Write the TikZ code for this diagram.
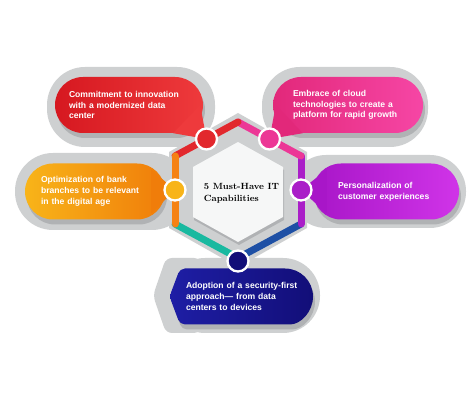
\documentclass[tikz,border=0pt]{standalone}
\usepackage{fontspec}
\newfontfamily\cardfont{Liberation Sans}
\usetikzlibrary{positioning,calc,shadows}

\definecolor{plategray}{RGB}{206,208,209}
\definecolor{plateshade}{RGB}{176,178,180}
\definecolor{hexwhite}{RGB}{246,247,247}
\definecolor{redL}{RGB}{214,24,32}
\definecolor{redR}{RGB}{238,58,60}
\definecolor{pinkL}{RGB}{226,40,122}
\definecolor{pinkR}{RGB}{246,70,165}
\definecolor{orangeL}{RGB}{248,180,25}
\definecolor{orangeR}{RGB}{240,125,10}
\definecolor{purpleL}{RGB}{168,22,200}
\definecolor{purpleR}{RGB}{208,52,232}
\definecolor{navyL}{RGB}{30,30,165}
\definecolor{navyR}{RGB}{18,14,120}
\definecolor{ringred}{RGB}{226,40,45}
\definecolor{ringpink}{RGB}{236,55,150}
\definecolor{ringorange}{RGB}{245,130,20}
\definecolor{ringpurple}{RGB}{170,30,200}
\definecolor{ringteal}{RGB}{25,185,160}
\definecolor{ringblue}{RGB}{30,80,165}

\tikzset{
  plate/.style={fill=plategray},
  cardshadow/.style={drop shadow={fill=plateshade, opacity=1, shadow xshift=2pt, shadow yshift=-5pt}},
  cardtext/.style={align=left, text=white, font=\cardfont\bfseries\fontsize{8.6}{10.8}\selectfont},
  card/.style={cardtext, rounded corners=28pt, minimum height=56pt, cardshadow},
  hubdot/.style={circle, draw=white, line width=2.3pt, minimum size=21pt, inner sep=0pt},
  ringseg/.style={line width=7pt, line cap=round},
  headline/.style={align=left, font=\bfseries\fontsize{9}{12}\selectfont}
}

\begin{document}
\begin{tikzpicture}[x=1pt, y=1pt]
\useasboundingbox (0,0) rectangle (476,403);

% hexagon corners
\coordinate (htop) at (238,281);
\coordinate (hur) at (301,247);
\coordinate (hlr) at (301,179);
\coordinate (hbot) at (238,145);
\coordinate (hll) at (175,179);
\coordinate (hul) at (175,247);

% gray plates
\fill[plate, rounded corners=38pt] (47,256) rectangle (215,336);
\fill[plate, rounded corners=38pt] (262,256) rectangle (428,336);
\fill[plate, rounded corners=38pt] (15,173) rectangle (190,250);
\fill[plate, rounded corners=36pt] (290,175) rectangle (466,248);
\fill[plate, rounded corners=37pt] (168,70) rectangle (320,145);
\fill[plate, rounded corners=6pt] (200,145) -- (166,145) -- (153,107.5) -- (166,70) -- (200,70) -- cycle;
\fill[plate] (238,290) -- (307,251) -- (307,175) -- (238,136) -- (169,175) -- (169,251) -- cycle;

% colored ring
\draw[ringseg, draw=ringteal] (hll) -- (hbot);
\draw[ringseg, draw=ringblue] (hbot) -- (hlr);
\draw[ringseg, draw=ringpurple] (hlr) -- (hur);
\draw[ringseg, draw=ringpink] (hur) -- (htop);
\draw[ringseg, draw=ringred] (htop) -- (hul);
\draw[ringseg, draw=ringorange] (hul) -- (hll);

\fill[hexwhite, drop shadow={fill=plateshade, opacity=1, shadow xshift=1pt, shadow yshift=-3pt}]
  (238,261) -- (283,236) -- (283,186) -- (238,161) -- (193,186) -- (193,236) -- cycle;
\node[headline] (title) at (241.5,210) {5 Must-Have IT\\Capabilities};

% cards
\node[card, left color=redL, right color=redR, minimum width=148pt, inner xsep=14pt, text width=120pt]
  (commit) at (129,298) {Commitment to innovation\\with a modernized data\\center};
\node[card, left color=pinkL, right color=pinkR, minimum width=150pt, inner xsep=20pt, text width=110pt]
  (cloud) at (348,298) {Embrace of cloud\\technologies to create a\\platform for rapid growth};
\node[card, left color=orangeL, right color=orangeR, minimum width=140pt, inner xsep=16pt, text width=108pt]
  (optimize) at (95,211.5) {Optimization of bank\\branches to be relevant\\in the digital age};
\node[card, left color=purpleL, right color=purpleR, minimum width=146pt, inner xsep=25pt, text width=96pt]
  (personal) at (386,211.5) {Personalization of\\customer experiences};
\path[left color=navyL, right color=navyR, cardshadow]
  [rounded corners=5pt] (285,134.5) -- (180,134.5) -- (169.5,106.5) -- (180,78.5) -- (285,78.5)
  [sharp corners] arc[start angle=-90, end angle=90, radius=28pt] -- cycle;
\node[cardtext, minimum width=146pt, minimum height=56pt, inner xsep=16pt, text width=114pt]
  (secure) at (243,106.5) {Adoption of a security-first\\approach— from data\\centers to devices};

% dot positions
\coordinate (rpos) at ($(hul)!0.5!(htop)$);
\coordinate (ppos) at ($(htop)!0.5!(hur)$);
\coordinate (opos) at ($(hul)!0.5!(hll)$);
\coordinate (vpos) at ($(hur)!0.5!(hlr)$);
\coordinate (npos) at (238,142);

% tails
\fill[redR] ($(commit.south east)+(-30,0)$) -- (rpos) -- ($(commit.east)+(-3,0)$) -- cycle;
\fill[pinkL] ($(cloud.south west)+(30,0)$) -- (ppos) -- ($(cloud.west)+(3,0)$) -- cycle;
\fill[orangeR] ($(optimize.east)+(-14,22)$) -- (opos) -- ($(optimize.east)+(-14,-22)$) -- cycle;
\fill[purpleL] ($(personal.west)+(14,22)$) -- (vpos) -- ($(personal.west)+(14,-22)$) -- cycle;

% dots
\node[hubdot, fill=ringred] (rdot) at (rpos) {};
\node[hubdot, fill=ringpink] (pdot) at (ppos) {};
\node[hubdot, fill=orangeL] (odot) at (opos) {};
\node[hubdot, fill=ringpurple] (vdot) at (vpos) {};
\node[hubdot, fill=navyR] (ndot) at (npos) {};
\end{tikzpicture}
\end{document}
